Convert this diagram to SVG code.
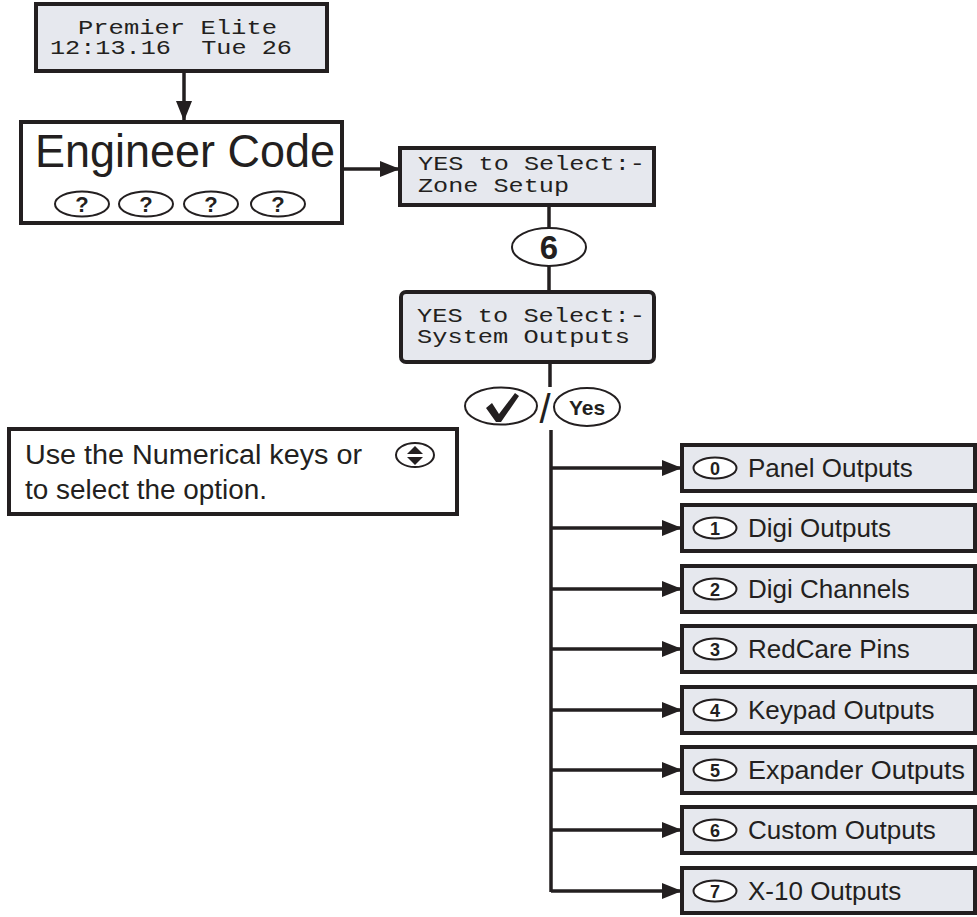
<svg xmlns="http://www.w3.org/2000/svg" width="977" height="917" viewBox="0 0 977 917">
<style>
.lcd{fill:#e6e8ee;stroke:#231f20;stroke-width:4}
.wbox{fill:#ffffff;stroke:#231f20;stroke-width:4}
.opt{fill:#e6e8ee;stroke:#231f20;stroke-width:4}
.mono{font-family:"Liberation Mono","DejaVu Sans Mono",monospace;font-size:21px;fill:#231f20}
.sans{font-family:"Liberation Sans",Arial,sans-serif;fill:#231f20}
.key{fill:#ffffff;stroke:#231f20;stroke-width:2}
.kb{font-family:"Liberation Sans",Arial,sans-serif;font-weight:bold;fill:#231f20;text-anchor:middle}
.ln{stroke:#231f20;stroke-width:3.5;fill:none}
</style>
<defs>
<marker id="ah" markerWidth="20" markerHeight="16" refX="19" refY="8" orient="auto" markerUnits="userSpaceOnUse">
<path d="M0,0 L20,8 L0,16 Z" fill="#231f20"/>
</marker>
</defs>
<g id="connectors">
<line class="ln" x1="184" y1="71" x2="184" y2="120" marker-end="url(#ah)"/>
<line class="ln" x1="342" y1="169" x2="399" y2="169" marker-end="url(#ah)"/>
<line class="ln" x1="549" y1="205" x2="549" y2="228"/>
<line class="ln" x1="549" y1="266" x2="549" y2="292"/>
<line class="ln" x1="550" y1="362" x2="550" y2="387"/>
<line class="ln" x1="551" y1="430" x2="551" y2="892"/>
<line class="ln" x1="551" y1="468" x2="681" y2="468" marker-end="url(#ah)"/>
<line class="ln" x1="551" y1="528" x2="681" y2="528" marker-end="url(#ah)"/>
<line class="ln" x1="551" y1="589" x2="681" y2="589" marker-end="url(#ah)"/>
<line class="ln" x1="551" y1="649" x2="681" y2="649" marker-end="url(#ah)"/>
<line class="ln" x1="551" y1="710" x2="681" y2="710" marker-end="url(#ah)"/>
<line class="ln" x1="551" y1="770" x2="681" y2="770" marker-end="url(#ah)"/>
<line class="ln" x1="551" y1="830" x2="681" y2="830" marker-end="url(#ah)"/>
<line class="ln" x1="551" y1="891" x2="681" y2="891" marker-end="url(#ah)"/>
</g>
<g id="start-display">
<rect class="lcd" x="36" y="4" width="291" height="67"/>
<text class="mono" x="78" y="34" textLength="199" lengthAdjust="spacingAndGlyphs">Premier Elite</text>
<text class="mono" x="50" y="54" xml:space="preserve" textLength="242" lengthAdjust="spacingAndGlyphs">12:13.16  Tue 26</text>
</g>
<g id="engineer-code">
<rect class="wbox" x="21" y="122" width="321" height="101"/>
<text class="sans" x="35" y="167" font-size="46" textLength="300" lengthAdjust="spacingAndGlyphs">Engineer Code</text>
<ellipse class="key" cx="82" cy="204" rx="27" ry="12.5"/>
<text class="kb" x="82" y="212" font-size="22">?</text>
<ellipse class="key" cx="146" cy="204" rx="27" ry="12.5"/>
<text class="kb" x="146" y="212" font-size="22">?</text>
<ellipse class="key" cx="211" cy="204" rx="27" ry="12.5"/>
<text class="kb" x="211" y="212" font-size="22">?</text>
<ellipse class="key" cx="278" cy="204" rx="27" ry="12.5"/>
<text class="kb" x="278" y="212" font-size="22">?</text>
</g>
<g id="zone-setup">
<rect class="lcd" x="400" y="148" width="254" height="57"/>
<text class="mono" x="418" y="170" textLength="227" lengthAdjust="spacingAndGlyphs">YES to Select:-</text>
<text class="mono" x="418" y="192" textLength="151" lengthAdjust="spacingAndGlyphs">Zone Setup</text>
</g>
<g id="key-6">
<ellipse class="key" cx="549" cy="247" rx="37" ry="19"/>
<text class="kb" x="549" y="259" font-size="33">6</text>
</g>
<g id="system-outputs">
<rect class="lcd" x="401" y="292" width="253" height="70" rx="5"/>
<text class="mono" x="417" y="322" textLength="228" lengthAdjust="spacingAndGlyphs">YES to Select:-</text>
<text class="mono" x="417" y="343" textLength="213" lengthAdjust="spacingAndGlyphs">System Outputs</text>
</g>
<g id="yes-keys">
<ellipse class="key" cx="501" cy="406" rx="36" ry="18.5"/>
<path d="M486,408 L492,403 L499,414 L515,393 L519,396 L501,422 L496,422 Z" fill="#231f20"/>
<text class="sans" x="545" y="423" font-size="40" text-anchor="middle">/</text>
<ellipse class="key" cx="587" cy="407" rx="33" ry="19"/>
<text class="kb" x="587" y="415" font-size="21">Yes</text>
</g>
<g id="instruction">
<rect class="wbox" x="9" y="429" width="448" height="85"/>
<text class="sans" x="25" y="464" font-size="27" textLength="337" lengthAdjust="spacingAndGlyphs">Use the Numerical keys or</text>
<text class="sans" x="25" y="499" font-size="27" textLength="242" lengthAdjust="spacingAndGlyphs">to select the option.</text>
<ellipse class="key" cx="415" cy="455" rx="19" ry="12"/>
<path d="M415,446 L423,454 L407,454 Z M415,465 L423,457 L407,457 Z" fill="#231f20"/>
</g>
<g id="opt-0">
<rect class="opt" x="682" y="445" width="293" height="46"/>
<ellipse class="key" cx="715" cy="468" rx="21.5" ry="10.5"/>
<text class="kb" x="715" y="474.5" font-size="18">0</text>
<text class="sans" x="748" y="477" font-size="26">Panel Outputs</text>
</g>
<g id="opt-1">
<rect class="opt" x="682" y="505" width="293" height="46"/>
<ellipse class="key" cx="715" cy="528" rx="21.5" ry="10.5"/>
<text class="kb" x="715" y="534.5" font-size="18">1</text>
<text class="sans" x="748" y="537" font-size="26">Digi Outputs</text>
</g>
<g id="opt-2">
<rect class="opt" x="682" y="566" width="293" height="46"/>
<ellipse class="key" cx="715" cy="589" rx="21.5" ry="10.5"/>
<text class="kb" x="715" y="595.5" font-size="18">2</text>
<text class="sans" x="748" y="598" font-size="26">Digi Channels</text>
</g>
<g id="opt-3">
<rect class="opt" x="682" y="626" width="293" height="46"/>
<ellipse class="key" cx="715" cy="649" rx="21.5" ry="10.5"/>
<text class="kb" x="715" y="655.5" font-size="18">3</text>
<text class="sans" x="748" y="658" font-size="26">RedCare Pins</text>
</g>
<g id="opt-4">
<rect class="opt" x="682" y="687" width="293" height="46"/>
<ellipse class="key" cx="715" cy="710" rx="21.5" ry="10.5"/>
<text class="kb" x="715" y="716.5" font-size="18">4</text>
<text class="sans" x="748" y="719" font-size="26">Keypad Outputs</text>
</g>
<g id="opt-5">
<rect class="opt" x="682" y="747" width="293" height="46"/>
<ellipse class="key" cx="715" cy="770" rx="21.5" ry="10.5"/>
<text class="kb" x="715" y="776.5" font-size="18">5</text>
<text class="sans" x="748" y="779" font-size="26" textLength="217" lengthAdjust="spacingAndGlyphs">Expander Outputs</text>
</g>
<g id="opt-6">
<rect class="opt" x="682" y="807" width="293" height="46"/>
<ellipse class="key" cx="715" cy="830" rx="21.5" ry="10.5"/>
<text class="kb" x="715" y="836.5" font-size="18">6</text>
<text class="sans" x="748" y="839" font-size="26">Custom Outputs</text>
</g>
<g id="opt-7">
<rect class="opt" x="682" y="868" width="293" height="45"/>
<ellipse class="key" cx="715" cy="891" rx="21.5" ry="10.5"/>
<text class="kb" x="715" y="897.5" font-size="18">7</text>
<text class="sans" x="748" y="900" font-size="26">X-10 Outputs</text>
</g>
</svg>
